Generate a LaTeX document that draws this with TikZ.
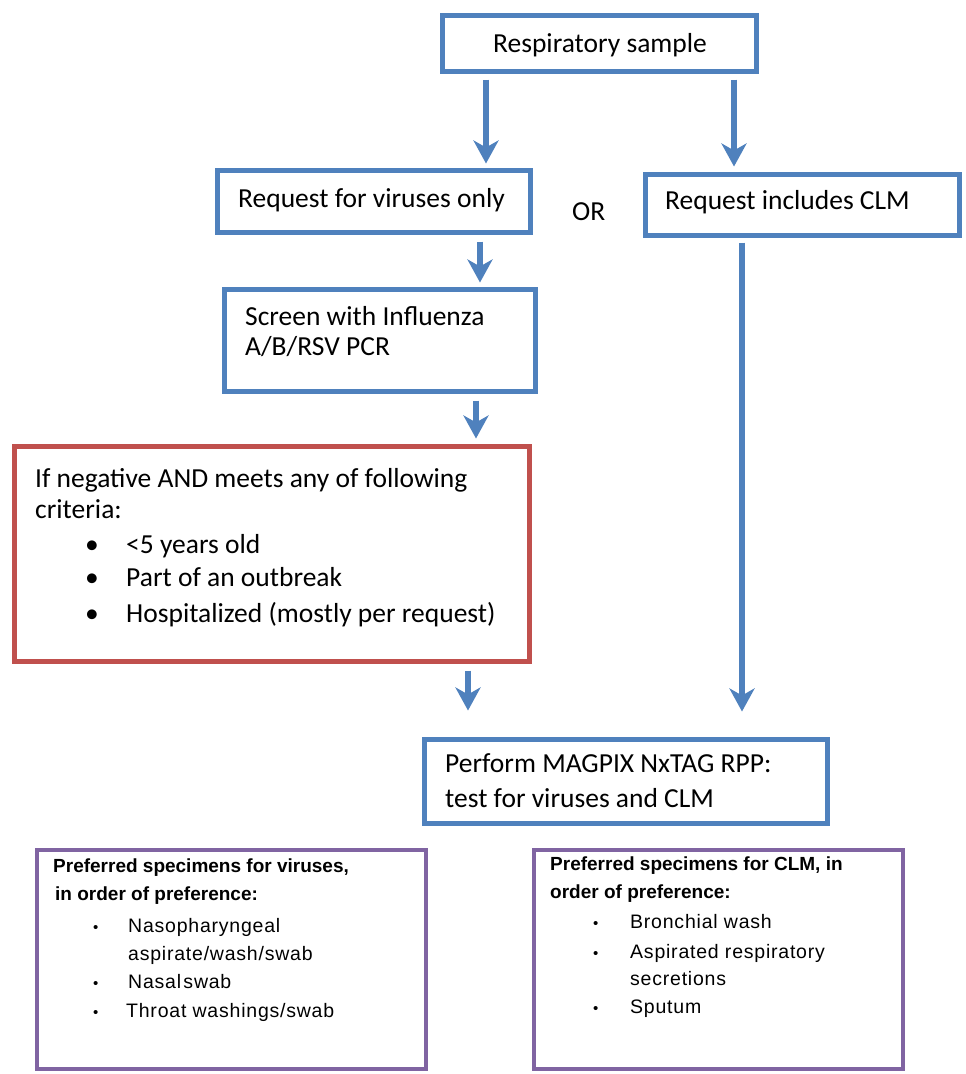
\documentclass[tikz,border=0pt]{standalone}
\usepackage{fontspec}
\setmainfont{Carlito}
\newfontfamily\arialfont{Liberation Sans}
\newfontfamily\arialspaced[LetterSpace=4]{Liberation Sans}
\usetikzlibrary{arrows.meta}
\definecolor{flowblue}{HTML}{4F81BD}
\definecolor{flowred}{HTML}{C0504D}
\definecolor{flowpurple}{HTML}{8064A2}
\tikzset{
  boxblue/.style={draw=flowblue, line width=5pt, inner sep=0pt, fill=white},
  boxred/.style={draw=flowred, line width=5pt, inner sep=0pt, fill=white},
  boxpurple/.style={draw=flowpurple, line width=4pt, inner sep=0pt, fill=white},
  flowtext/.style={anchor=base west, inner sep=0pt, font=\fontsize{27.5}{32}\selectfont},
  spectext/.style={anchor=base west, inner sep=0pt, font=\arialspaced\fontsize{19.5}{23}\selectfont},
  spechead/.style={anchor=base west, inner sep=0pt, font=\arialfont\bfseries\fontsize{19}{23}\selectfont},
  smallbullet/.style={anchor=base west, inner sep=0pt, font=\arialfont\fontsize{15}{18}\selectfont},
  arr/.style={draw=flowblue, line width=6pt, -{Stealth[length=23pt,width=25pt,inset=7pt]}}
}
\begin{document}
\begin{tikzpicture}[x=1pt,y=-1pt]
\useasboundingbox (0,0) rectangle (966,1074);
\fill[white] (0,0) rectangle (966,1074);

% boxes
\node[boxblue, minimum width=314pt, minimum height=56pt] (rs) at (599.5,43.5) {};
\node[boxblue, minimum width=313pt, minimum height=62pt] (req) at (374,201.5) {};
\node[boxblue, minimum width=314pt, minimum height=61pt] (clm) at (802.5,205) {};
\node[boxblue, minimum width=311pt, minimum height=102pt] (scr) at (380,340.5) {};
\node[boxred, minimum width=515pt, minimum height=215pt] (crit) at (272,554) {};
\node[boxblue, minimum width=403pt, minimum height=84pt] (perf) at (626,781.5) {};
\node[boxpurple, minimum width=389pt, minimum height=219pt] (pv) at (231.5,959.5) {};
\node[boxpurple, minimum width=369pt, minimum height=219pt] (pc) at (718.5,959.5) {};

% texts
\node[anchor=base, inner sep=0pt, font=\fontsize{27.5}{32}\selectfont] (rst) at (600,52) {Respiratory sample};
\node[flowtext] (reqt) at (238,207) {Request for viruses only};
\node[flowtext] (clmt) at (665,209) {Request includes CLM};
\node[flowtext] (or) at (572,220) {OR};
\node[flowtext] (scr1) at (245,325) {Screen with Influenza};
\node[flowtext] (scr2) at (245,355) {A/B/RSV PCR};
\node[flowtext] (c1) at (35,487) {If negative AND meets any of following};
\node[flowtext] (c2) at (35,518) {criteria:};
\node[flowtext] (b1) at (85,553) {•};
\node[flowtext] (b2) at (85,586) {•};
\node[flowtext] (b3) at (85,622) {•};
\node[flowtext] (i1) at (126,553) {<5 years old};
\node[flowtext] (i2) at (126,586) {Part of an outbreak};
\node[flowtext] (i3) at (126,622) {Hospitalized (mostly per request)};
\node[flowtext] (p1) at (445,772) {Perform MAGPIX NxTAG RPP:};
\node[flowtext] (p2) at (445,807) {test for viruses and CLM};

\node[spechead] (vh1) at (53,872) {Preferred specimens for viruses,};
\node[spechead] (vh2) at (55,900) {in order of preference:};
\node[smallbullet] (vb1) at (93,932) {•};
\node[smallbullet] (vb2) at (93,988) {•};
\node[smallbullet] (vb3) at (93,1017) {•};
\node[spectext] (v1) at (128,932) {Nasopharyngeal};
\node[spectext] (v2) at (128,960) {aspirate/wash/swab};
\node[spectext] (v3) at (128,988) {Nasal\hspace{0.12em}swab};
\node[spectext] (v4) at (126,1017) {Throat washings/swab};

\node[spechead] (ch1) at (550,870) {Preferred specimens for CLM, in};
\node[spechead] (ch2) at (550,898) {order of preference:};
\node[smallbullet] (cb1) at (593,928) {•};
\node[smallbullet] (cb2) at (593,958) {•};
\node[smallbullet] (cb3) at (593,1013) {•};
\node[spectext] (s1) at (630,928) {Bronchial wash};
\node[spectext] (s2) at (630,958) {Aspirated respiratory};
\node[spectext] (s3) at (630,985) {secretions};
\node[spectext] (s4) at (630,1013) {Sputum};

% connectors (yshift is in page coordinates: negative = downwards)
\draw[arr] ([xshift=-113.5pt,yshift=-5.5pt]rs.south) -- ([xshift=112pt,yshift=4.5pt]req.north);
\draw[arr] ([xshift=134.5pt,yshift=-5.5pt]rs.south) -- ([xshift=-68.5pt,yshift=5.5pt]clm.north);
\draw[arr] ([xshift=106pt,yshift=-6.5pt]req.south) -- ([xshift=100pt,yshift=4.5pt]scr.north);
\draw[arr] ([xshift=96pt,yshift=-6.5pt]scr.south) -- ([xshift=204pt,yshift=5.5pt]crit.north);
\draw[arr] ([xshift=-60.5pt,yshift=-4.5pt]clm.south) -- ([xshift=116pt,yshift=25.5pt]perf.north);
\draw[arr] ([xshift=196pt,yshift=-6.5pt]crit.south) -- ([xshift=-158pt,yshift=26.5pt]perf.north);
\end{tikzpicture}
\end{document}
